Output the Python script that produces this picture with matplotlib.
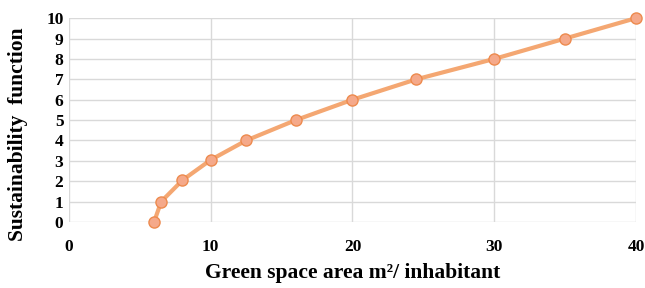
import matplotlib
matplotlib.use("Agg")
import matplotlib.pyplot as plt

green_area = [6, 6.5, 8, 10, 12.5, 16, 20, 24.5, 30, 35, 40]
sustainability = [0, 1, 2.05, 3.05, 4, 5, 6, 7, 8, 9, 10]
x_ticks = [0, 10, 20, 30, 40]
y_ticks = list(range(0, 11))

plt.rcParams['font.family'] = ['Liberation Serif', 'DejaVu Serif']

fig = plt.figure(figsize=(6.45, 2.88), dpi=100)
ax = fig.add_axes([0.107, 0.229, 0.879, 0.708])

ax.plot(green_area, sustainability, color='#F4A772', linewidth=3,
        marker='o', markersize=8, markerfacecolor='#F5A98A',
        markeredgecolor='#ED8A4E', markeredgewidth=1.0, clip_on=False, zorder=3)

ax.set_xlim(0, 40)
ax.set_ylim(0, 10)
ax.set_xticks(x_ticks)
ax.set_yticks(y_ticks)
ax.grid(True, color='#d9d9d9', linewidth=1.0)
ax.set_axisbelow(True)
for s in ax.spines.values():
    s.set_visible(False)
ax.tick_params(length=0, labelsize=12.5)
for lab in ax.get_xticklabels() + ax.get_yticklabels():
    lab.set_fontweight('bold')
ax.tick_params(axis='x', pad=12)
ax.tick_params(axis='y', pad=4)

ax.set_xlabel('Green space area m²/ inhabitant', fontsize=15.5, fontweight='bold')
ax.set_ylabel('Sustainability  function', fontsize=15.5, fontweight='bold')
ax.xaxis.set_label_coords(0.5, -0.2)
ax.yaxis.set_label_coords(-0.072, 0.43)

fig.savefig('out.png', dpi=100)
